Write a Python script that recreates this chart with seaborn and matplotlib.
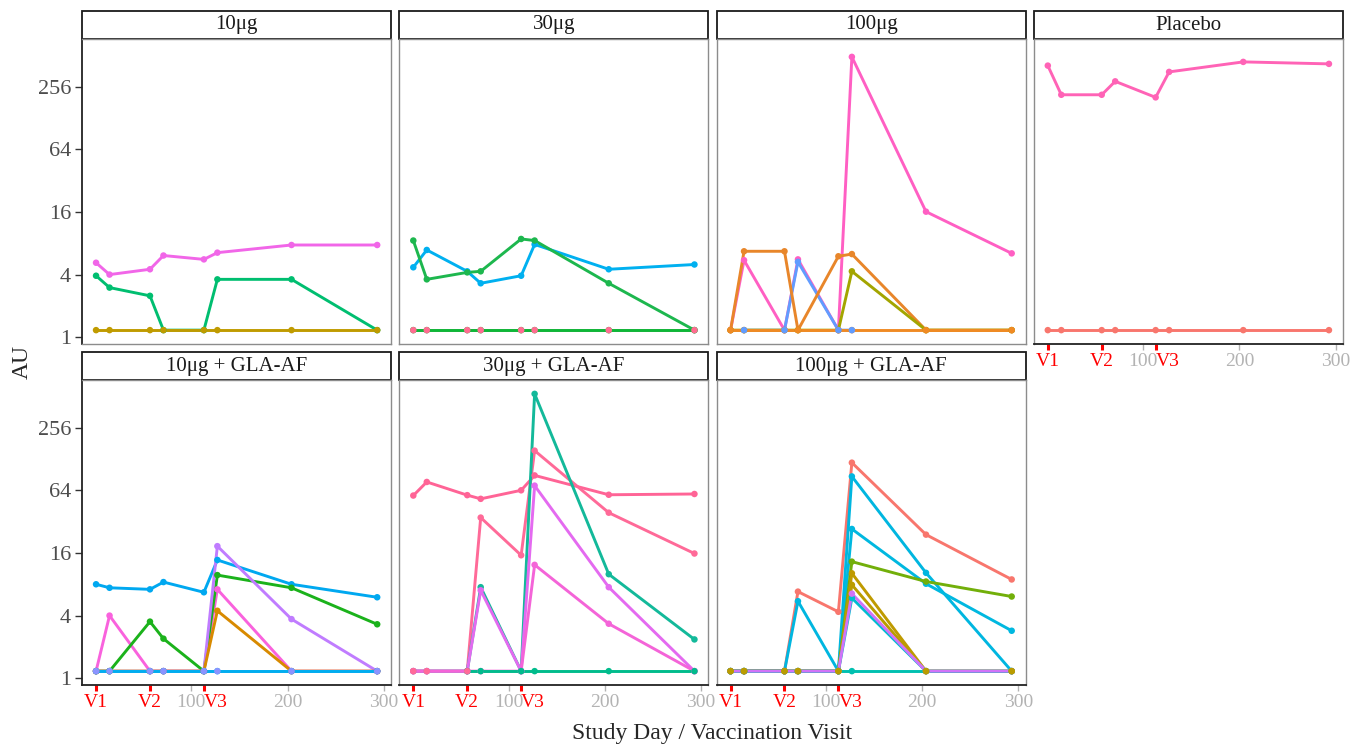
import numpy as np
import pandas as pd
import seaborn as sns
import matplotlib.pyplot as plt
from matplotlib.patches import Rectangle

sns.set_theme(style="white")
plt.rcParams["font.family"] = ["Liberation Serif", "DejaVu Serif"]

# study days of the sampling visits
days = [1, 15, 57, 71, 113, 127, 204, 293]
B = 1.17  # value plotted for samples below detection
na = np.nan

panel_names = ["10μg", "30μg", "100μg", "Placebo",
               "10μg + GLA-AF", "30μg + GLA-AF", "100μg + GLA-AF"]

# ---- subject values (AU) per group, in drawing order ----
# 10μg
s101 = [5.2, 4.0, 4.5, 6.1, 5.6, 6.5, 7.7, 7.7]
s102 = [3.9, 3.0, 2.5, B, B, 3.6, 3.6, B]
s103 = [B, B, B, B, B, B, B, B]
# 30μg
s201 = [4.7, 6.9, 4.3, 3.3, 3.9, 7.8, 4.5, 5.0]
s202 = [8.5, 3.6, 4.2, 4.3, 8.8, 8.5, 3.3, B]
s203 = [B, B, B, B, B, B, B, B]
s204 = [B, B, B, B, B, B, B, B]
# 100μg
s301 = [B, 5.5, B, 5.6, B, 495, 16.1, 6.4]
s302 = [na, B, B, 5.3, B, B, na, na]
s303 = [B, 6.7, 6.7, B, 6.0, 6.3, B, B]
s304 = [B, B, B, B, B, 4.3, B, B]
s305 = [B, B, B, B, B, B, B, B]
# Placebo
s401 = [408, 214, 214, 288, 202, 355, 443, 424]
s402 = [B, B, B, B, B, B, B, B]
# 10μg + GLA-AF
s501 = [8.0, 7.4, 7.15, 8.4, 6.7, 13.7, 8.0, 6.0]
s502 = [B, 4.0, B, B, B, 7.15, B, B]
s503 = [B, B, 3.5, 2.4, B, 9.8, 7.4, 3.3]
s504 = [B, B, B, B, B, 18.6, 3.7, B]
s505 = [B, B, B, B, B, 4.45, B, B]
s506 = [B, B, B, B, B, B, B, B]
s507 = [B, B, B, B, B, B, B, B]
# 30μg + GLA-AF
s601 = [57, 77, 57.5, 53, 64, 89, 58, 59]
s602 = [B, B, B, 35, 15.2, 154, 39, 15.8]
s603 = [B, B, B, 7.5, B, 541, 10.0, 2.36]
s604 = [B, B, B, 7.0, B, 71, 7.5, B]
s605 = [B, B, B, B, B, 12.3, 3.34, B]
s606 = [na, na, B, B, B, B, B, B]
# 100μg + GLA-AF
s701 = [B, B, B, 6.8, 4.35, 118, 24, 8.9]
s702 = [B, B, B, 5.5, B, 87, 10.3, B]
s703 = [B, B, B, B, B, 27.2, 8.1, 2.86]
s704 = [B, B, B, B, B, 13.2, 8.5, 6.1]
s705 = [B, B, B, B, B, 10.2, B, B]
s706 = [B, B, B, B, B, 7.9, B, B]
s708 = [B, B, B, B, B, 5.9, B, B]
s709 = [B, B, B, B, B, B, B, B]
s707 = [B, B, B, B, B, 6.5, B, B]

groups = {
    "10μg": {"s101": s101, "s102": s102, "s103": s103},
    "30μg": {"s201": s201, "s202": s202, "s203": s203, "s204": s204},
    "100μg": {"s301": s301, "s302": s302, "s303": s303, "s304": s304, "s305": s305},
    "Placebo": {"s401": s401, "s402": s402},
    "10μg + GLA-AF": {"s501": s501, "s502": s502, "s503": s503, "s504": s504,
                      "s505": s505, "s506": s506, "s507": s507},
    "30μg + GLA-AF": {"s601": s601, "s602": s602, "s603": s603, "s604": s604,
                      "s605": s605, "s606": s606},
    "100μg + GLA-AF": {"s701": s701, "s702": s702, "s703": s703, "s704": s704,
                       "s705": s705, "s706": s706, "s708": s708, "s709": s709,
                       "s707": s707},
}

# subject colours
colors = {
    "s101": "#F166E8", "s102": "#00BE70", "s103": "#C09B00",
    "s201": "#00B0F0", "s202": "#1DB74E", "s203": "#FF6C91", "s204": "#0CB838",
    "s301": "#FF5FC3", "s302": "#619CFF", "s303": "#E8862A", "s304": "#A3A500",
    "s305": "#F08A24",
    "s401": "#FF63B6", "s402": "#F8766D",
    "s501": "#00A8F0", "s502": "#F962DD", "s503": "#1BB21B", "s504": "#C07CFF",
    "s505": "#D88A00", "s506": "#8B93FF", "s507": "#00AEEF",
    "s601": "#FF6496", "s602": "#FF6A98", "s603": "#13B99A", "s604": "#E46AF0",
    "s605": "#F464D8", "s606": "#00BC8C",
    "s701": "#F8766D", "s702": "#00B6E0", "s703": "#00B8E0", "s704": "#72AF0A",
    "s705": "#BF9A00", "s706": "#BA9C00", "s707": "#D173F8", "s708": "#00BCD0",
    "s709": "#00C0B0",
}
# subjects whose dots end up on top of the others
points_on_top = ["s203", "s302", "s506", "s602", "s705", "s706"]

visit_days = [1, 57, 113]
visit_labels = ["V1", "V2", "V3"]
day_ticks = [100, 200, 300]

rows = []
for panel, subj in groups.items():
    for sid, vals in subj.items():
        for d, v in zip(days, vals):
            rows.append((panel, sid, d, v))
df = pd.DataFrame(rows, columns=["panel", "subject", "day", "au"]).dropna()

g = sns.FacetGrid(df, col="panel", col_wrap=4, col_order=panel_names,
                  sharex=True, sharey=True, height=3, aspect=1, despine=False)
g.figure.set_size_inches(13.65, 7.5)
g.figure.subplots_adjust(left=82 / 1365, right=1343 / 1365,
                         top=1 - 39 / 750, bottom=1 - 685 / 750,
                         wspace=8 / 309, hspace=36 / 305)

lo, hi = np.log2(df["au"].min()), np.log2(df["au"].max())
pad = 0.05 * (hi - lo)
xpad = 0.05 * (max(days) - min(days))

xt = sorted(visit_days + day_ticks)
xl = [visit_labels[visit_days.index(t)] if t in visit_days else str(t) for t in xt]

for i, name in enumerate(panel_names):
    ax = g.axes_dict[name]
    sub = df[df["panel"] == name]
    order = list(groups[name].keys())
    sns.lineplot(data=sub, x="day", y="au", hue="subject", hue_order=order,
                 palette=colors, estimator=None, lw=2.1, legend=False, ax=ax)
    rank = {s: k + (100 if s in points_on_top else 0) for k, s in enumerate(order)}
    pts = sub.assign(r=sub["subject"].map(rank)).sort_values("r", kind="stable")
    sns.scatterplot(data=pts, x="day", y="au", hue="subject", palette=colors,
                    s=22, linewidth=0, legend=False, ax=ax, zorder=3)

    ax.set_yscale("log", base=2)
    ax.set_ylim(2 ** (lo - pad), 2 ** (hi + pad))
    ax.set_xlim(min(days) - xpad, max(days) + xpad)
    ax.set_yticks([1, 4, 16, 64, 256])
    ax.set_yticklabels(["1", "4", "16", "64", "256"])
    ax.yaxis.set_minor_locator(plt.NullLocator())
    ax.set_xticks(xt)
    ax.set_xticklabels(xl)
    ax.set_xlabel("")
    ax.set_ylabel("")
    ax.set_title("")

    for sp in ax.spines.values():
        sp.set_visible(True)
        sp.set_color("#8C8C8C")
        sp.set_linewidth(1.0)

    left_col = i % 4 == 0
    bottom = i >= 3
    if left_col:
        ax.tick_params(axis="y", left=True, length=5, width=1, color="#333333",
                       labelsize=16, labelcolor="#4D4D4D", pad=3, labelleft=True)
        ax.spines["left"].set_color("#222222")
        ax.spines["left"].set_linewidth(1.3)
    else:
        ax.tick_params(axis="y", left=False, labelleft=False)
    if bottom:
        ax.tick_params(axis="x", bottom=True, length=4.5, labelsize=14,
                       pad=2, labelbottom=True)
        ax.spines["bottom"].set_color("#222222")
        ax.spines["bottom"].set_linewidth(1.3)
        for tick, lab in zip(ax.xaxis.get_major_ticks(), xl):
            if lab in visit_labels:
                tick.tick1line.set_markeredgecolor("red")
                tick.tick1line.set_markeredgewidth(2.2)
                tick.label1.set_color("red")
                if lab == "V3":
                    tick.label1.set_horizontalalignment("left")
            else:
                tick.tick1line.set_markeredgecolor("#B3B3B3")
                tick.tick1line.set_markeredgewidth(1)
                tick.label1.set_color("#B3B3B3")
    else:
        ax.tick_params(axis="x", bottom=False, labelbottom=False)

    # facet strip
    h = 28 / (ax.get_position().height * 750)
    ax.add_patch(Rectangle((0, 1), 1, h, transform=ax.transAxes, clip_on=False,
                           facecolor="white", edgecolor="#1A1A1A", lw=1.3))
    ax.text(0.5, 1 + h / 2, name, transform=ax.transAxes, ha="center",
            va="center", fontsize=15, color="#1A1A1A")

g.figure.text((82 + 1343) / 2 / 1365, 1 - 733 / 750, "Study Day / Vaccination Visit",
              ha="center", va="center", fontsize=17)
g.figure.text(22 / 1365, 1 - 362 / 750, "AU", rotation=90,
              ha="center", va="center", fontsize=17)

g.figure.savefig("out.png", dpi=100)
